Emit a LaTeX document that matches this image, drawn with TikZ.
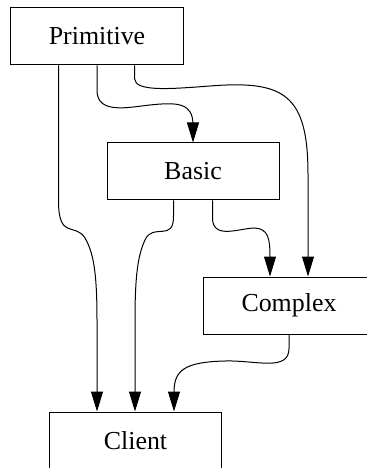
\documentclass[tikz,border=0pt]{standalone}
\usepackage{fontspec}
\setmainfont{Liberation Serif}
\usetikzlibrary{arrows.meta,calc}
\begin{document}
\begin{tikzpicture}[x=1bp,y=-1bp,
  box/.style={draw,line width=1bp,minimum width=172bp,minimum height=57bp,inner sep=0pt,font=\fontsize{26}{30}\selectfont},
  edge/.style={line width=1bp,-{Triangle[length=20bp,width=12bp]}}]
\useasboundingbox (0,0) rectangle (366,468);
\node[box] (prim) at (97,36.5) {Primitive};
\node[box] (basic) at (193,171.5) {Basic};
\node[box] (complex) at (289,305.5) {Complex};
\node[box] (client) at (135.5,440.5) {Client};
% Primitive -> Client
\draw[edge] ($(prim.south west)+(48,0)$) -- ++(0,135)
  .. controls +(0,40) and (75,222) .. (85,238)
  .. controls (93,252) and (97,270) .. (97,320) -- (client.north -| 97,0);
% Primitive -> Basic
\draw[edge] (prim.south) -- ++(0,25)
  .. controls (97,115) and (130,107) .. (150,105)
  .. controls (178,102) and (193,103) .. (193,125) -- (basic.north);
% Primitive -> Complex
\draw[edge] ($(prim.south west)+(124,0)$) -- ++(0,13)
  .. controls (135,92) and (170,89) .. (210,86)
  .. controls (285,80) and (308,95) .. (308,175) -- (complex.north -| 308,0);
% Basic -> Client
\draw[edge] ($(basic.south west)+(67,0)$) -- ++(0,15)
  .. controls (174,243) and (153,222) .. (145,240)
  .. controls (138,255) and (135,275) .. (135,320) -- (client.north -| 135,0);
% Basic -> Complex
\draw[edge] ($(basic.south west)+(106,0)$) -- ++(0,18)
  .. controls (213,240) and (240,228) .. (255,228)
  .. controls (268,229) and (270,238) .. (270,257) -- (complex.north -| 270,0);
% Complex -> Client
\draw[edge] (complex.south) -- ++(0,14)
  .. controls (289,372) and (255,360) .. (225,361)
  .. controls (185,362) and (174,370) .. (174,392) -- (client.north -| 174,0);
\end{tikzpicture}
\end{document}
